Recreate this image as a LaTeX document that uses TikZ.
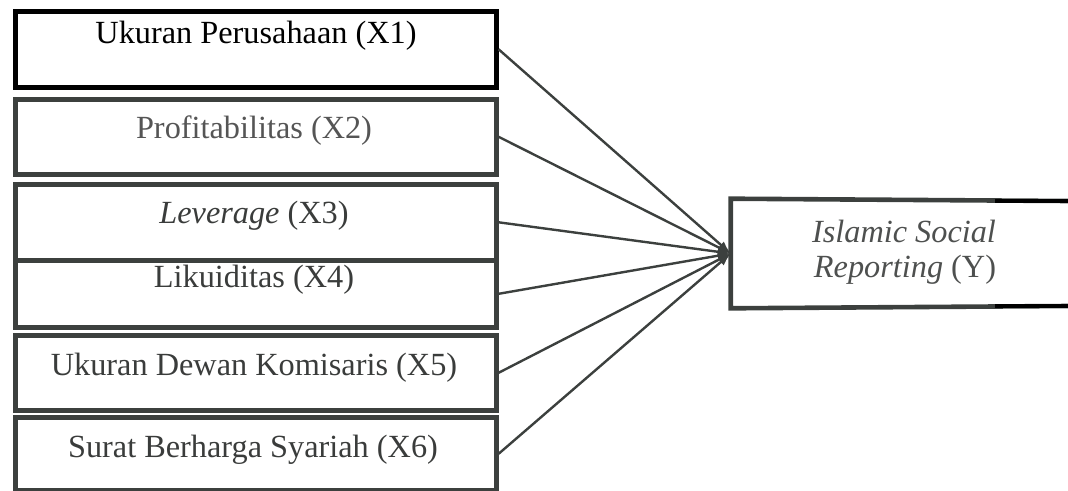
\documentclass[tikz,border=0pt]{standalone}
\usepackage{fontspec}
\setmainfont{Liberation Serif}
\usetikzlibrary{arrows.meta}

\definecolor{edgegray}{RGB}{60,64,62}
\definecolor{textgray}{RGB}{58,60,59}
\definecolor{softgray}{RGB}{85,85,85}

\tikzset{
  varbox/.style={draw=edgegray, line width=4.6pt, minimum width=481pt,
                 inner sep=0pt, outer sep=2.3pt, anchor=north west},
  lbl/.style={anchor=base, inner sep=0pt, text=textgray,
              font=\fontsize{32.3}{35}\selectfont},
  link/.style={draw=edgegray, line width=2.4pt,
               -{Latex[length=13pt,width=9pt]}},
}

\begin{document}
\begin{tikzpicture}[x=1pt,y=-1pt]
  \useasboundingbox (0,0) rectangle (1068,490);

  % independent variables (boxes, stroke centres in pt)
  \node[varbox, draw=black, minimum height=76pt] (x1) at (13,9) {};
  \node[varbox, minimum height=75pt] (x2) at (13,97) {};
  \node[varbox, minimum height=76pt] (x3) at (13,182) {};
  \node[varbox, minimum height=67pt] (x4) at (13,258) {};
  \node[varbox, minimum height=75pt] (x5) at (13,333) {};
  \node[varbox, minimum height=73pt] (x6) at (13,415) {};

  % labels sit in the upper part of each box
  \node[lbl, text=black] (t1) at (256,43) {Ukuran Perusahaan (X1)};
  \node[lbl, text=softgray] (t2) at (254,138) {Profitabilitas (X2)};
  \node[lbl] (t3) at (254,223) {\textit{Leverage} (X3)};
  \node[lbl] (t4) at (254,287) {Likuiditas (X4)};
  \node[lbl] (t5) at (254,375) {Ukuran Dewan Komisaris (X5)};
  \node[lbl] (t6) at (253,457) {Surat Berharga Syariah (X6)};

  % dependent variable: box open to the right edge
  \node[minimum width=343pt, minimum height=105pt, inner sep=0pt,
        outer sep=2.3pt] (y) at (904.5,253.5) {};
  \coordinate (ytr) at (1068,201);
  \coordinate (ybr) at (1068,306);
  \draw[edgegray, line width=4.6pt] (ytr) -- (y.north west) -- (y.south west) -- (ybr);
  \draw[black, line width=4.6pt] (995,201) -- (ytr);
  \draw[black, line width=4.6pt] (995,306) -- (ybr);
  \node[lbl, text=textgray!90!white] (ty1) at (904,242) {\textit{Islamic Social}};
  \node[lbl, text=textgray!90!white] (ty2) at (905,277) {\textit{Reporting} (Y)};

  % paths from every variable to Y
  \foreach \v in {x1,x2,x3,x4,x5,x6}
    \draw[link] (\v.east) -- (y.west);
\end{tikzpicture}
\end{document}
